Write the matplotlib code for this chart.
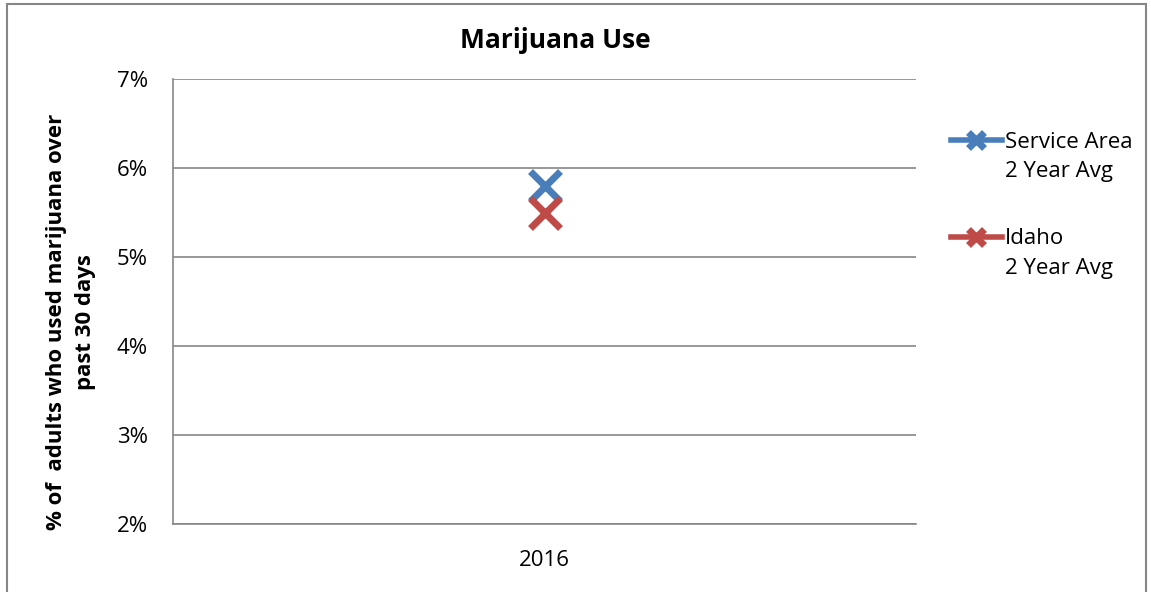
import matplotlib
matplotlib.use("Agg")
import matplotlib.pyplot as plt
from matplotlib.patches import Rectangle
from matplotlib.ticker import FuncFormatter

# data
years = ["2016"]
service_area = [5.8]
idaho = [5.5]
series_names = ["Service Area", "Idaho"]
series_suffix = "2 Year Avg"
y_ticks = [2, 3, 4, 5, 6, 7]

plt.rcParams["font.family"] = ["Open Sans", "DejaVu Sans"]

fig = plt.figure(figsize=(11.51, 5.92), dpi=100)
fig.patches.append(Rectangle((7 / 1151, -0.01), 1139 / 1151, 1 - 4 / 592 + 0.01,
                             transform=fig.transFigure, fill=False,
                             edgecolor="#868686", linewidth=1.5))

ax = fig.add_axes([173 / 1151, 68 / 592, 743 / 1151, 445 / 592])
x = range(len(years))
ax.plot(x, service_area, marker="x", markersize=22, markeredgewidth=5,
        color="#4A7EBB", linewidth=4, label=series_names[0])
ax.plot(x, idaho, marker="x", markersize=22, markeredgewidth=5,
        color="#BE4B48", linewidth=4, label=series_names[1])

ax.set_xlim(-0.5, 0.5)
ax.set_xticks(list(x))
ax.set_xticklabels(years)
ax.set_ylim(2, 7)
ax.set_yticks(y_ticks)
ax.yaxis.set_major_formatter(FuncFormatter(lambda v, p: f"{v:.0f}%"))
ax.grid(axis="y", color="#868686", linewidth=1.2)
ax.set_axisbelow(True)
for s in ["top", "right"]:
    ax.spines[s].set_visible(False)
for s in ["left", "bottom"]:
    ax.spines[s].set_color("#868686")
    ax.spines[s].set_linewidth(1.2)
ax.tick_params(axis="both", length=0, labelsize=16)
ax.tick_params(axis="x", pad=19)
ax.tick_params(axis="y", pad=18)

fig.text(555 / 1151, 1 - 40 / 592, "Marijuana Use", fontsize=19,
         fontweight="bold", ha="center", va="center")
fig.text(71 / 1151, 1 - 322 / 592,
         "% of  adults who used marijuana over\npast 30 days", fontsize=16,
         fontweight="bold", rotation=90, ha="center", va="center",
         multialignment="center", linespacing=1.5)

leg = ax.legend(loc="upper left", bbox_to_anchor=(1.02, 0.926), frameon=False,
                fontsize=16, handlelength=2.3, labelspacing=3.4,
                handletextpad=0.15, markerscale=0.55)
for t in leg.get_texts():
    ax.annotate(series_suffix, xy=(0, 0), xycoords=t, xytext=(0, -6),
                textcoords="offset points", fontsize=16, ha="left", va="top",
                zorder=10, annotation_clip=False)

fig.savefig("out.png", dpi=100)
